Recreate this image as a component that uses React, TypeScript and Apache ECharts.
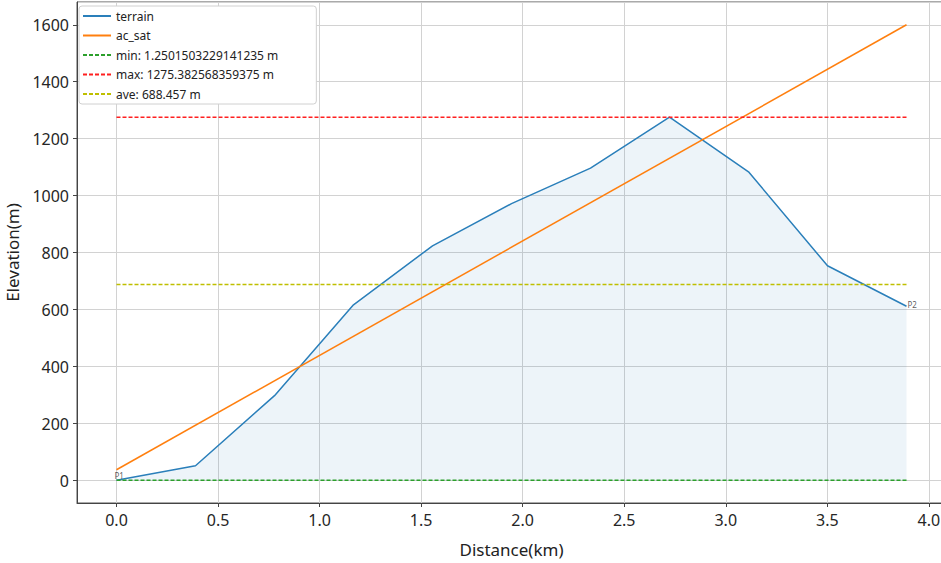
import React, { useEffect, useRef } from "react";
import * as echarts from "echarts";

const distanceKm = [0, 0.389, 0.778, 1.167, 1.556, 1.945, 2.334, 2.723, 3.112, 3.501, 3.89];
const terrainElev = [1.25, 52, 298, 617, 824, 972, 1097, 1275.38, 1084, 754, 612];
const acSatStart = [0, 38];
const acSatEnd = [3.89, 1600];
const minElev = 1.2501503229141235;
const maxElev = 1275.382568359375;
const aveElev = 688.457;
const legendNames = ["terrain", "ac_sat", "min: 1.2501503229141235 m", "max: 1275.382568359375 m", "ave: 688.457 m"];
const pointLabels = ["P1", "P2"];

const FONT = "Noto Sans";

export default function App() {
  const ref = useRef<HTMLDivElement>(null);
  useEffect(() => {
    if (!ref.current) return;
    const chart = echarts.init(ref.current, null, { renderer: "svg" });
    const xFirst = distanceKm[0];
    const xLast = distanceKm[distanceKm.length - 1];
    const hline = (v: number) => [[xFirst, v], [xLast, v]];
    const dashed = (name: string, color: string, v: number) => ({
      name,
      type: "line",
      data: hline(v),
      showSymbol: false,
      symbol: "none",
      lineStyle: { color, width: 1.5, type: [4, 2] },
      itemStyle: { color },
      z: 4,
    });
    chart.setOption({
      animation: false,
      backgroundColor: "#ffffff",
      textStyle: { fontFamily: FONT },
      grid: {
        left: 77,
        top: 2,
        width: 869,
        height: 501,
        containLabel: false,
        outerBoundsMode: "none",
        show: true,
        borderColor: "#555",
        borderWidth: 1,
        backgroundColor: "transparent",
      },
      legend: {
        orient: "vertical",
        left: 79,
        top: 6,
        data: legendNames,
        itemWidth: 28,
        itemHeight: 12,
        itemGap: 7.5,
        padding: [4, 38, 4, 3],
        backgroundColor: "#ffffff",
        borderColor: "#d0d0d0",
        borderWidth: 1,
        borderRadius: 3,
        itemStyle: { opacity: 0 },
        textStyle: { fontFamily: FONT, fontSize: 12, color: "#222" },
      },
      xAxis: {
        type: "value",
        min: -0.1945,
        max: 4.0845,
        minInterval: 0.5,
        maxInterval: 0.5,
        name: "Distance(km)",
        nameLocation: "middle",
        nameGap: 38,
        nameTextStyle: { fontFamily: FONT, fontSize: 17, color: "#222" },
        axisLine: { show: true, onZero: false, lineStyle: { color: "#444", width: 1 } },
        axisTick: { show: true, inside: false, length: 4, lineStyle: { color: "#444" } },
        axisLabel: {
          fontFamily: FONT,
          fontSize: 16,
          color: "#262626",
          margin: 9,
          showMinLabel: false,
          showMaxLabel: false,
          formatter: (v: number) => {
            const r = v / 0.5;
            return Math.abs(r - Math.round(r)) < 1e-6 ? v.toFixed(1) : "";
          },
        },
        splitLine: { show: true, lineStyle: { color: "#d2d2d2", width: 1 } },
      },
      yAxis: {
        type: "value",
        min: -78.7,
        max: 1679.9,
        minInterval: 200,
        maxInterval: 200,
        name: "Elevation(m)",
        nameLocation: "middle",
        nameGap: 47,
        nameTextStyle: { fontFamily: FONT, fontSize: 17, color: "#222" },
        axisLine: { show: true, onZero: false, lineStyle: { color: "#444", width: 1 } },
        axisTick: { show: true, inside: false, length: 4, lineStyle: { color: "#444" } },
        axisLabel: {
          fontFamily: FONT,
          fontSize: 16,
          color: "#262626",
          margin: 8,
          showMinLabel: false,
          showMaxLabel: false,
          formatter: (v: number) => {
            const r = v / 200;
            return Math.abs(r - Math.round(r)) < 1e-6 ? String(Math.round(v)) : "";
          },
        },
        splitLine: { show: true, lineStyle: { color: "#d2d2d2", width: 1 } },
      },
      series: [
        {
          name: "terrain",
          type: "line",
          data: distanceKm.map((d, i) => [d, terrainElev[i]]),
          showSymbol: false,
          symbol: "none",
          lineStyle: { color: "#2a7fba", width: 1.5 },
          itemStyle: { color: "#2a7fba" },
          areaStyle: { color: "rgba(31,119,180,0.11)", origin: "auto" },
          z: 2,
        },
        {
          name: "ac_sat",
          type: "line",
          data: [acSatStart, acSatEnd],
          showSymbol: false,
          symbol: "none",
          lineStyle: { color: "#ff7f0e", width: 1.5 },
          itemStyle: { color: "#ff7f0e" },
          z: 3,
        },
        dashed(legendNames[2], "#2ca02c", minElev),
        dashed(legendNames[3], "#ff2020", maxElev),
        dashed(legendNames[4], "#bfbf00", aveElev),
        {
          name: "labels",
          type: "scatter",
          symbolSize: 0,
          data: [
            { value: [distanceKm[0], terrainElev[0]], label: { formatter: pointLabels[0], position: [-2, -9] } },
            {
              value: [distanceKm[distanceKm.length - 1], terrainElev[terrainElev.length - 1]],
              label: { formatter: pointLabels[1], position: [1, -6] },
            },
          ],
          label: { show: true, fontFamily: FONT, fontSize: 8, color: "#333" },
          z: 6,
        },
      ],
    });
    return () => chart.dispose();
  }, []);
  return (
    <div
      ref={ref}
      style={{ position: "fixed", left: 0, top: 0, width: 941, height: 563, background: "#fff" }}
    />
  );
}
